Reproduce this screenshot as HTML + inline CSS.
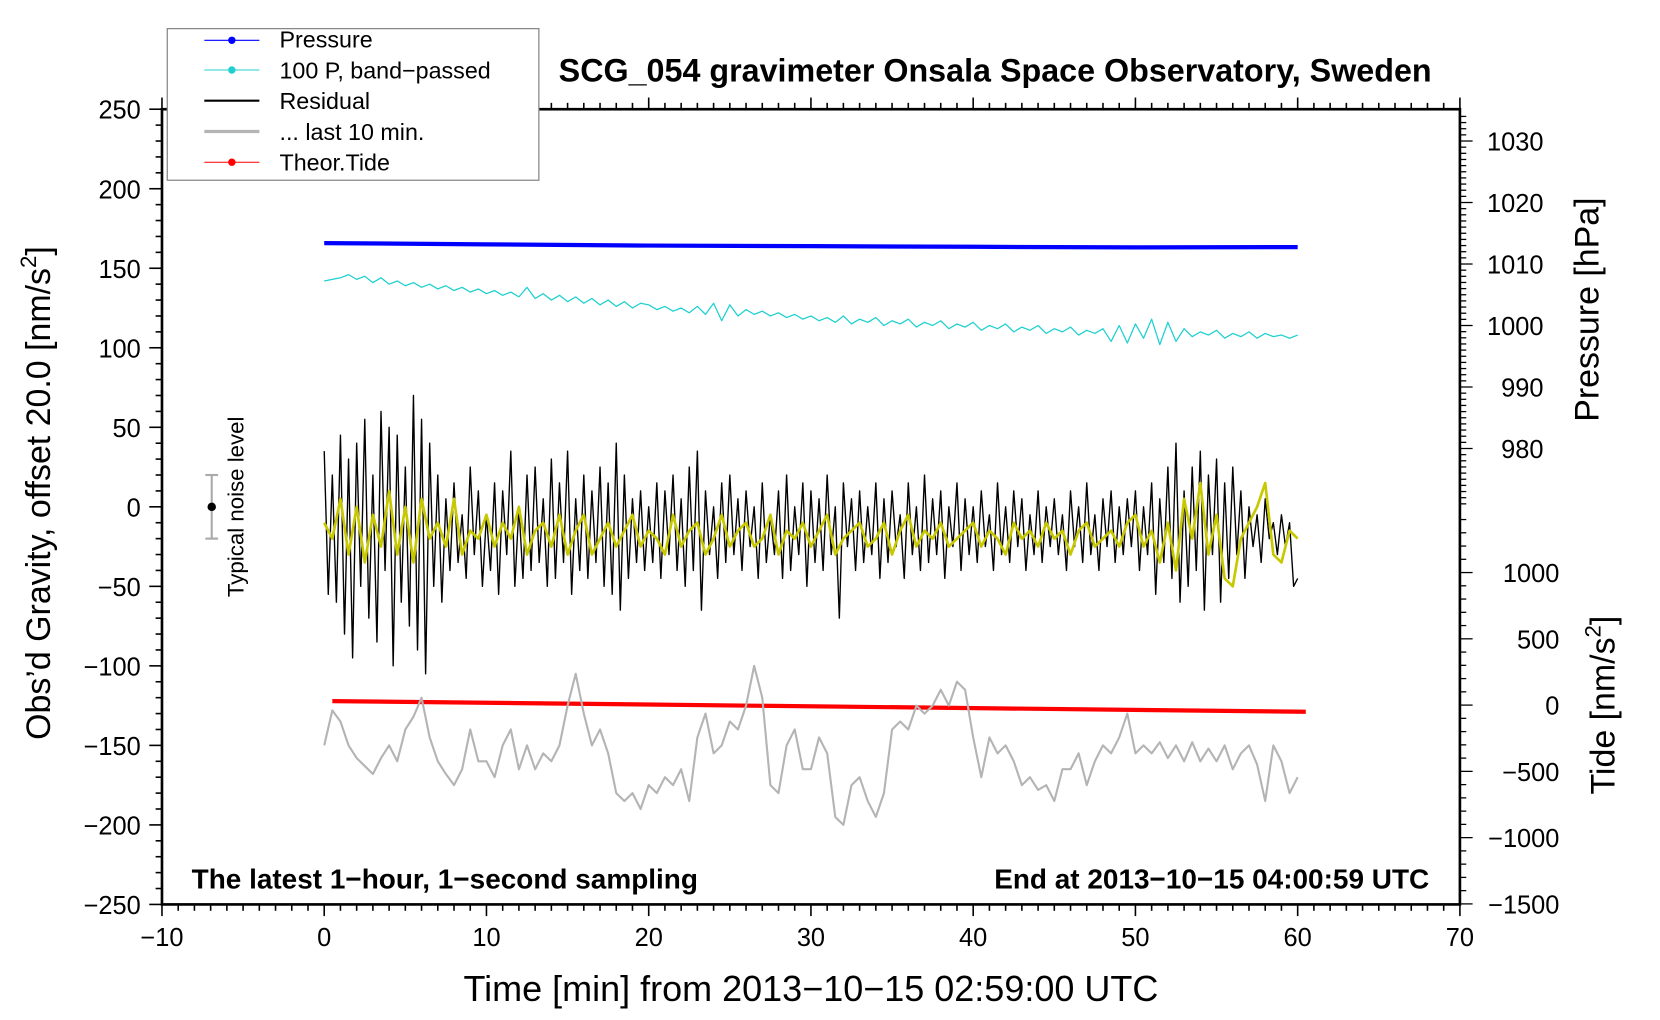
<!DOCTYPE html>
<html><head><meta charset="utf-8"><style>
html,body{margin:0;padding:0;background:#fff;}
svg{display:block;font-family:"Liberation Sans",Arial,sans-serif;}
</style></head><body>
<svg id="chart" width="1660" height="1020" viewBox="0 0 1568 962" preserveAspectRatio="none" xmlns="http://www.w3.org/2000/svg">
<rect width="1568" height="962" fill="#fff"/>
<g id="axes"></g>
<g id="series"></g>
<text x="940" y="77" font-size="30.5" font-weight="bold" text-anchor="middle">SCG_054 gravimeter Onsala Space Observatory, Sweden</text>
<text x="766" y="944" font-size="34" text-anchor="middle">Time [min] from 2013−10−15 02:59:00 UTC</text>
<text transform="translate(47,465) rotate(-90)" font-size="32" text-anchor="middle">Obs’d Gravity, offset 20.0 [nm/s<tspan font-size="21" dy="-13">2</tspan><tspan dy="13">]</tspan></text>
<text transform="translate(1510,292) rotate(-90)" font-size="32" text-anchor="middle">Pressure [hPa]</text>
<text transform="translate(1525,665) rotate(-90)" font-size="32" text-anchor="middle">Tide [nm/s<tspan font-size="21" dy="-13">2</tspan><tspan dy="13">]</tspan></text>
<text x="181" y="838" font-size="26.4" font-weight="bold">The latest 1−hour, 1−second sampling</text>
<text x="1350" y="838" font-size="26.4" font-weight="bold" text-anchor="end">End at 2013−10−15 04:00:59 UTC</text>
<g>
<line x1="200" y1="448" x2="200" y2="508" stroke="#aaa" stroke-width="2"/>
<line x1="194" y1="448" x2="206" y2="448" stroke="#aaa" stroke-width="2"/>
<line x1="194" y1="508" x2="206" y2="508" stroke="#aaa" stroke-width="2"/>
<circle cx="200" cy="478" r="4" fill="#000"/>
<text transform="translate(230,478) rotate(-90)" font-size="21" text-anchor="middle">Typical noise level</text>
</g>
<g>
<rect x="158" y="27" width="351" height="143" fill="#fff" stroke="#888" stroke-width="1.2"/>
<g><line x1="193" y1="38" x2="245" y2="38" stroke="#0000ff" stroke-width="1"/><circle cx="219" cy="38" r="3.5" fill="#0000ff"/><text x="264" y="45" font-size="22">Pressure</text></g>
<g><line x1="193" y1="66" x2="245" y2="66" stroke="#20d0d0" stroke-width="1"/><circle cx="219" cy="66" r="3.5" fill="#20d0d0"/><text x="264" y="74" font-size="22">100 P, band−passed</text></g>
<g><line x1="193" y1="95" x2="245" y2="95" stroke="#000" stroke-width="2"/><text x="264" y="103" font-size="22">Residual</text></g>
<g><line x1="193" y1="124" x2="245" y2="124" stroke="#b4b4b4" stroke-width="3"/><text x="264" y="132" font-size="22">... last 10 min.</text></g>
<g><line x1="193" y1="153" x2="245" y2="153" stroke="#ff0000" stroke-width="1"/><circle cx="219" cy="153" r="3.5" fill="#ff0000"/><text x="264" y="161" font-size="22">Theor.Tide</text></g>
</g>
</svg>
<script>
// ---- data ----
const pressureTimes = [0,10,20,30,40,50,60];
const pressureValues = [1013.4,1013.2,1013.0,1012.9,1012.8,1012.7,1012.75];
const tideTimes = [0.5,60.5];
const tideValues = [30,-50];
const bandPassed = [142,143,144,146,143,145,141,144,140,142,139,141,138,140,137,139,136,138,135,137,
134,136,133,135,132,138,131,134,130,133,129,132,128,131,127,130,126,129,125,128,
127,124,126,123,125,122,126,121,128,117,127,120,124,121,123,120,122,119,121,118,
120,117,119,116,120,115,118,116,119,114,117,115,118,113,116,114,117,112,115,113,
116,111,114,112,115,110,113,111,114,109,112,110,113,108,111,109,112,104,114,103,
115,106,118,102,116,104,112,107,110,108,111,106,109,107,110,106,109,107,108,106,108];
const residual = [35,-55,20,-60,45,-80,30,-95,40,-50,55,-70,20,-85,60,-40,50,-100,45,-60,
25,-75,70,-90,55,-105,40,-50,20,-60,5,-40,15,-35,-5,-45,25,-30,10,-50,
-5,-40,15,-55,10,-30,35,-50,0,-45,20,-40,25,-35,5,-50,30,-45,15,-35,
35,-55,5,-40,20,-45,10,-35,25,-50,15,-55,40,-65,20,-45,5,-35,10,-40,
0,-35,15,-45,10,-30,20,-40,5,-50,25,-40,35,-65,10,-30,0,-45,15,-35,
20,-30,5,-40,10,-25,0,-45,15,-35,-5,-30,10,-45,20,-40,0,-30,15,-50,
10,-35,5,-40,20,-30,0,-70,15,-25,5,-40,10,-35,0,-30,15,-45,5,-35,
10,-25,-5,-45,15,-30,0,-40,20,-35,5,-30,10,-45,0,-25,15,-40,5,-30,
0,-35,10,-25,-5,-40,15,-30,0,-35,10,-25,5,-40,-5,-30,10,-35,0,-25,
5,-30,-5,-40,10,-25,0,-35,15,-30,-5,-40,5,-25,10,-35,0,-30,5,-25,
10,-40,0,-30,15,-55,5,-35,25,-45,40,-60,10,-50,25,-40,35,-65,20,-30,
30,-60,15,-45,25,-30,10,-45,0,-25,-5,-35,5,-20,-10,-30,-5,-25,-10,-50,-45];
const smoothed = [-10,-20,5,-30,0,-35,-5,-25,10,-30,0,-35,5,-20,-10,-25,5,-30,-15,-20,
-5,-25,-10,-20,0,-30,-15,-10,-25,-5,-30,-15,-5,-30,-20,-10,-25,-15,-5,-25,
-15,-20,-30,-5,-25,-15,-10,-30,-20,-5,-25,-15,-10,-25,-20,-5,-30,-15,-20,-10,
-25,-15,-5,-30,-20,-15,-10,-25,-20,-10,-30,-15,-5,-25,-15,-20,-10,-25,-20,-15,
-10,-25,-15,-20,-30,-10,-20,-15,-25,-10,-20,-15,-30,-15,-10,-25,-20,-15,-25,-10,
-5,-25,-15,-35,-10,-40,5,-20,15,-30,-5,-45,-50,-20,-10,0,15,-30,-35,-15,-20];
const last10 = [-150,-128,-135,-150,-158,-163,-168,-158,-150,-160,-140,-132,-120,-145,-160,-168,-175,-165,-140,-160,
-160,-170,-150,-140,-165,-150,-165,-155,-160,-150,-125,-105,-130,-150,-140,-155,-180,-185,-180,-190,
-175,-180,-170,-175,-165,-185,-145,-130,-155,-150,-135,-140,-125,-100,-120,-175,-180,-150,-140,-165,
-165,-145,-155,-195,-200,-175,-170,-185,-195,-180,-140,-135,-140,-125,-130,-125,-115,-125,-110,-115,
-145,-170,-145,-155,-150,-160,-175,-170,-178,-175,-185,-165,-165,-155,-175,-160,-150,-155,-145,-130,
-155,-150,-155,-148,-158,-150,-160,-148,-160,-152,-160,-150,-165,-155,-150,-162,-185,-150,-160,-180,-170];
const xTicks = [-10,0,10,20,30,40,50,60,70];
const yTicks = [250,200,150,100,50,0,-50,-100,-150,-200,-250];
const pTicks = [1030,1020,1010,1000,990,980];
const tTicks = [1000,500,0,-500,-1000,-1500];

// ---- scales ----
const X0=153,X1=1379,Y0=103,Y1=853;
const xS = t => X0 + (t+10)/80*(X1-X0);
const yL = v => 478 - v*1.5;
const yP = p => 307 - (p-1000)*5.8;
const yT = v => 665 - v*0.125;
const NS="http://www.w3.org/2000/svg";
const axes=document.getElementById('axes'), series=document.getElementById('series');
function mk(tag, attrs, parent){const e=document.createElementNS(NS,tag);for(const k in attrs)e.setAttribute(k,attrs[k]);parent.appendChild(e);return e;}

const frame = mk('rect',{x:X0,y:Y0,width:X1-X0,height:Y1-Y0,fill:'none',stroke:'#000','stroke-width':2.5},axes);


for(let t=-10;t<=70;t++){
  const maj = t%10===0; const L = maj?11:6;
  mk('line',{x1:xS(t),y1:Y1,x2:xS(t),y2:Y1+L,stroke:'#000','stroke-width':1.5},axes);
  mk('line',{x1:xS(t),y1:Y0,x2:xS(t),y2:Y0-L,stroke:'#000','stroke-width':1.5},axes);
}
xTicks.forEach(t=>{
  const tx=mk('text',{x:xS(t),y:Y1+39,'font-size':24,'text-anchor':'middle'},axes);
  tx.textContent = String(t).replace('-','−');
  
  
});
for(let v=-250;v<=250;v+=10){
  const maj=v%50===0; const L=maj?12:6;
  mk('line',{x1:X0,y1:yL(v),x2:X0-L,y2:yL(v),stroke:'#000','stroke-width':1.5},axes);
}
yTicks.forEach(v=>{
  const tx=mk('text',{x:133,y:yL(v)+9,'font-size':24,'text-anchor':'end'},axes);
  tx.textContent=String(v).replace('-','−');
  
  
});
for(let p=971;p<=1034;p++){
  const maj=p%10===0; const L=maj?12:6;
  mk('line',{x1:X1,y1:yP(p),x2:X1+L,y2:yP(p),stroke:'#000','stroke-width':1.2},axes);
}
pTicks.forEach(p=>{
  const tx=mk('text',{x:1458,y:yP(p)+9,'font-size':24,'text-anchor':'end'},axes);
  tx.textContent=String(p);
  
  
});
for(let v=-1500;v<=1400;v+=100){
  const maj=v%500===0; const L=maj?12:6;
  mk('line',{x1:X1,y1:yT(v),x2:X1+L,y2:yT(v),stroke:'#000','stroke-width':1.2},axes);
}
tTicks.forEach(v=>{
  const tx=mk('text',{x:1473,y:yT(v)+9,'font-size':24,'text-anchor':'end'},axes);
  tx.textContent=String(v).replace('-','−');
  
  
});

function line(times, vals, yf, color, w, name){
  const pts = vals.map((v,i)=>xS(times[i]).toFixed(2)+','+yf(v).toFixed(2)).join(' ');
  const pl = mk('polyline',{points:pts,fill:'none',stroke:color,'stroke-width':w,'stroke-linejoin':'round'},series);
  
  
}
const t05 = bandPassed.map((_,i)=>i*0.5);
const t025 = residual.map((_,i)=>i*0.25);
const tS = smoothed.map((_,i)=>i*0.5);
const tG = last10.map((_,i)=>i*0.5);
line(pressureTimes, pressureValues, yP, '#0000ff', 4, 'pressure-line');
line(t05, bandPassed, yL, '#20d0d0', 1.2, 'band-passed-line');
line(t025, residual, yL, '#000', 1.3, 'residual-line');
line(tS, smoothed, yL, '#c8c800', 2.5, 'residual-smoothed-line');
line(tideTimes, tideValues, yT, '#ff0000', 4, 'theor-tide-line');
line(tG, last10, yL, '#b4b4b4', 2, 'last-10-min-line');
</script>
</body></html>
